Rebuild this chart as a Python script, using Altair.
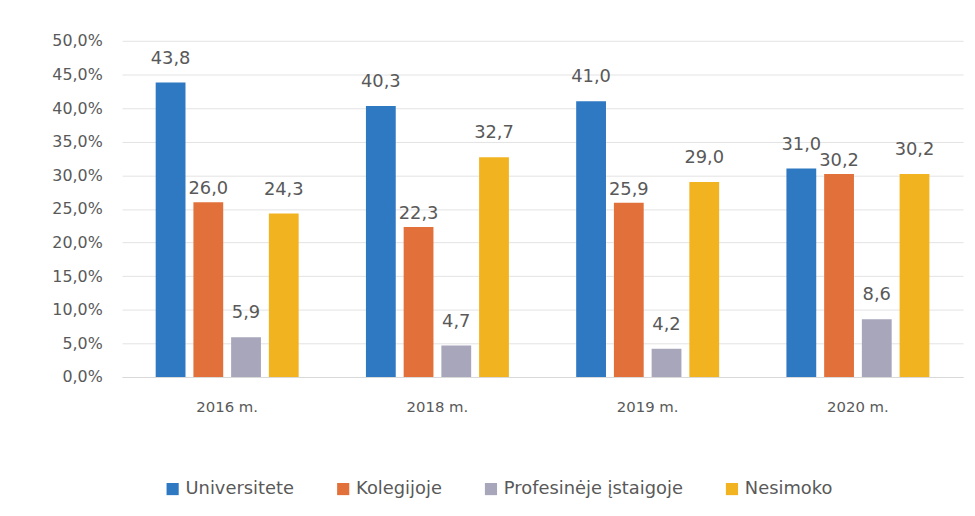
import altair as alt
import pandas as pd

years = ["2016 m.", "2018 m.", "2019 m.", "2020 m."]
series = ["Universitete", "Kolegijoje", "Profesinėje įstaigoje", "Nesimoko"]
colors = ["#2F78C2", "#E2703A", "#A7A6BA", "#F2B320"]
universitete = [43.8, 40.3, 41.0, 31.0]
kolegijoje = [26.0, 22.3, 25.9, 30.2]
profesines = [5.9, 4.7, 4.2, 8.6]
nesimoko = [24.3, 32.7, 29.0, 30.2]
y_ticks = [0, 5, 10, 15, 20, 25, 30, 35, 40, 45, 50]

rows = []
for s, vals in zip(series, [universitete, kolegijoje, profesines, nesimoko]):
    for y, v in zip(years, vals):
        rows.append({"year": y, "series": s, "value": v})
df = pd.DataFrame(rows)

FONT = "DejaVu Sans"
TXT = "#595959"

base = alt.Chart(df).encode(
    x=alt.X("year:N", sort=years, title=None,
            scale=alt.Scale(paddingInner=0.32, paddingOuter=0.16),
            axis=alt.Axis(labelAngle=0, labelFontSize=15, labelColor=TXT,
                          labelFont=FONT, ticks=False, domainColor="#d9d9d9",
                          labelPadding=23, grid=False)),
    xOffset=alt.XOffset("series:N", sort=series,
                        scale=alt.Scale(paddingInner=0.21, paddingOuter=0)),
    y=alt.Y("value:Q", title=None,
            scale=alt.Scale(domain=[0, 50], nice=False),
            axis=alt.Axis(values=y_ticks, labelOverlap=False, labelFlush=False,
                          labelExpr="replace(format(datum.value, '.1f'), '.', ',') + '%'",
                          labelFontSize=16, labelColor=TXT, labelFont=FONT,
                          ticks=False, domain=False, gridColor="#e3e3e3",
                          labelPadding=20)),
)

bars = base.mark_bar().encode(
    color=alt.Color("series:N", sort=series,
                    scale=alt.Scale(domain=series, range=colors),
                    legend=alt.Legend(title=None, orient="none", direction="horizontal",
                                      legendX=42, legendY=443,
                                      symbolType="square", symbolSize=150,
                                      symbolStrokeWidth=0,
                                      labelFontSize=18, labelColor=TXT,
                                      labelFont=FONT, columnPadding=40,
                                      labelLimit=300)),
)

text_base = base.transform_calculate(
    lbl="replace(format(datum.value, '.1f'), '.', ',')"
)

labels_main = text_base.transform_filter(
    alt.datum.series != "Kolegijoje"
).mark_text(dy=-24, fontSize=18, color=TXT, font=FONT).encode(text="lbl:N")

labels_kol = text_base.transform_filter(
    alt.datum.series == "Kolegijoje"
).mark_text(dy=-13, fontSize=18, color=TXT, font=FONT).encode(text="lbl:N")

chart = alt.layer(bars, labels_main, labels_kol).properties(
    width=848, height=339,
    autosize=alt.AutoSizeParams(type="none"),
    padding={"left": 115, "top": 31, "right": 4, "bottom": 130},
    background="white",
).configure_view(stroke=None)

chart.save("out.html", embed_options={"renderer": "svg", "actions": False})
